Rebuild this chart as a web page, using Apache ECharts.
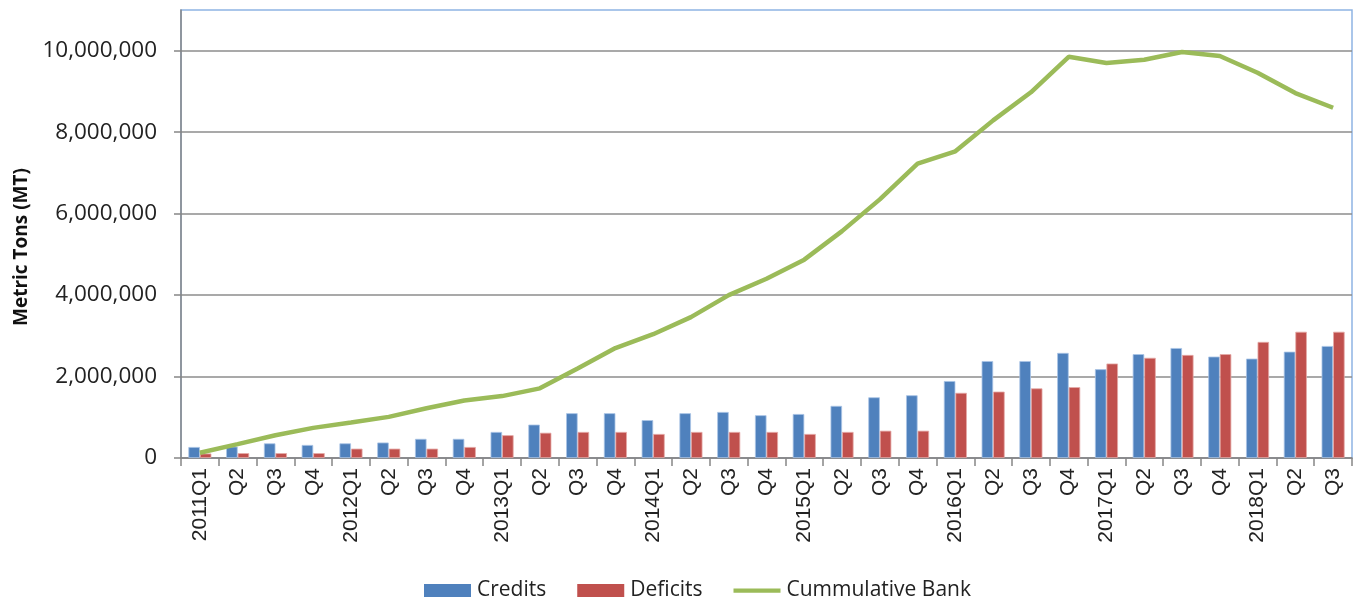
<!DOCTYPE html>
<html>
<head>
<meta charset="utf-8">
<script src="https://cdn.jsdelivr.net/npm/echarts@6/dist/echarts.min.js"></script>
<style>
html,body{margin:0;padding:0;background:#fff;}
#chart{width:1355px;height:600px;}
</style>
</head>
<body>
<div id="chart"></div>
<script>
const categories = ["2011Q1","Q2","Q3","Q4","2012Q1","Q2","Q3","Q4","2013Q1","Q2","Q3","Q4","2014Q1","Q2","Q3","Q4","2015Q1","Q2","Q3","Q4","2016Q1","Q2","Q3","Q4","2017Q1","Q2","Q3","Q4","2018Q1","Q2","Q3"];
const credits = [270000,280000,360000,320000,360000,380000,470000,470000,640000,820000,1100000,1100000,930000,1100000,1130000,1050000,1080000,1280000,1490000,1540000,1890000,2380000,2380000,2580000,2180000,2550000,2700000,2490000,2440000,2610000,2750000];
const deficits = [110000,120000,120000,120000,230000,230000,230000,270000,560000,620000,640000,640000,590000,640000,640000,640000,590000,640000,670000,670000,1600000,1630000,1710000,1740000,2320000,2460000,2530000,2550000,2850000,3100000,3100000];
const bank = [130000,340000,560000,740000,870000,1010000,1220000,1410000,1520000,1710000,2200000,2700000,3040000,3460000,4000000,4400000,4870000,5570000,6350000,7230000,7530000,8290000,8980000,9850000,9700000,9780000,9970000,9870000,9460000,8960000,8600000];
const seriesNames = ["Credits","Deficits","Cummulative Bank"];
const yTicks = {min:0, max:11000000, interval:2000000};

const chart = echarts.init(document.getElementById('chart'), null, {renderer:'canvas'});
const fmt = v => v.toString().replace(/\B(?=(\d{3})+(?!\d))/g, ",");
chart.setOption({
  animation:false,
  backgroundColor:'#ffffff',
  grid:{left:181, right:3, top:10, bottom:142, show:true, borderColor:'#8eb4e3', borderWidth:1.5, backgroundColor:'transparent'},
  legend:{
    left:419, top:575,
    itemWidth:47, itemHeight:13, itemGap:31,
    itemStyle:{borderWidth:0},
    textStyle:{fontFamily:'"Open Sans"', fontSize:21, color:'#222', padding:[0,0,0,1]},
    data:[
      {name:seriesNames[0], icon:'rect'},
      {name:seriesNames[1], icon:'rect'},
      {name:seriesNames[2], icon:'path://M0,0 L0,0 M0,4.5 L48,4.5 L48,8.8 L0,8.8 Z M48,13 L48,13'}
    ]
  },
  xAxis:{
    type:'category', data:categories, boundaryGap:true,
    axisLine:{lineStyle:{color:'#868686', width:1.5}},
    axisTick:{show:true, alignWithLabel:false, length:8, lineStyle:{color:'#868686', width:1.5}},
    axisLabel:{rotate:90, interval:0, margin:10, fontFamily:'"Liberation Sans"', fontSize:21, color:'#222'}
  },
  yAxis:{
    type:'value', min:yTicks.min, max:yTicks.max, interval:yTicks.interval,
    name:'Metric Tons (MT)', nameLocation:'middle', nameGap:140,
    nameTextStyle:{fontFamily:'"Open Sans"', fontWeight:'bold', fontSize:19, color:'#111', padding:[0,26,0,0]},
    axisLine:{show:true, lineStyle:{color:'#868686', width:1.5}},
    axisTick:{show:true, length:7, lineStyle:{color:'#868686', width:1.5}},
    axisLabel:{showMaxLabel:false, margin:24, fontFamily:'"Open Sans"', fontSize:22.5, color:'#222', formatter:v=>fmt(v)},
    splitLine:{show:true, showMaxLine:false, lineStyle:{color:'#8c8c8c', width:1.5}}
  },
  series:[
    {name:seriesNames[0], type:'bar', data:credits, barGap:'0%', barCategoryGap:'39%',
     itemStyle:{color:'#4f81bd', borderColor:'#a9c4e6', borderWidth:0.8}},
    {name:seriesNames[1], type:'bar', data:deficits, barGap:'0%', barCategoryGap:'39%',
     itemStyle:{color:'#c0504d', borderColor:'#e4a9a7', borderWidth:0.8}},
    {name:seriesNames[2], type:'line', data:bank, symbol:'none', showSymbol:false, z:5,
     lineStyle:{color:'#9bbb59', width:4.5}, itemStyle:{color:'#9bbb59'}}
  ]
});
</script>
</body>
</html>
